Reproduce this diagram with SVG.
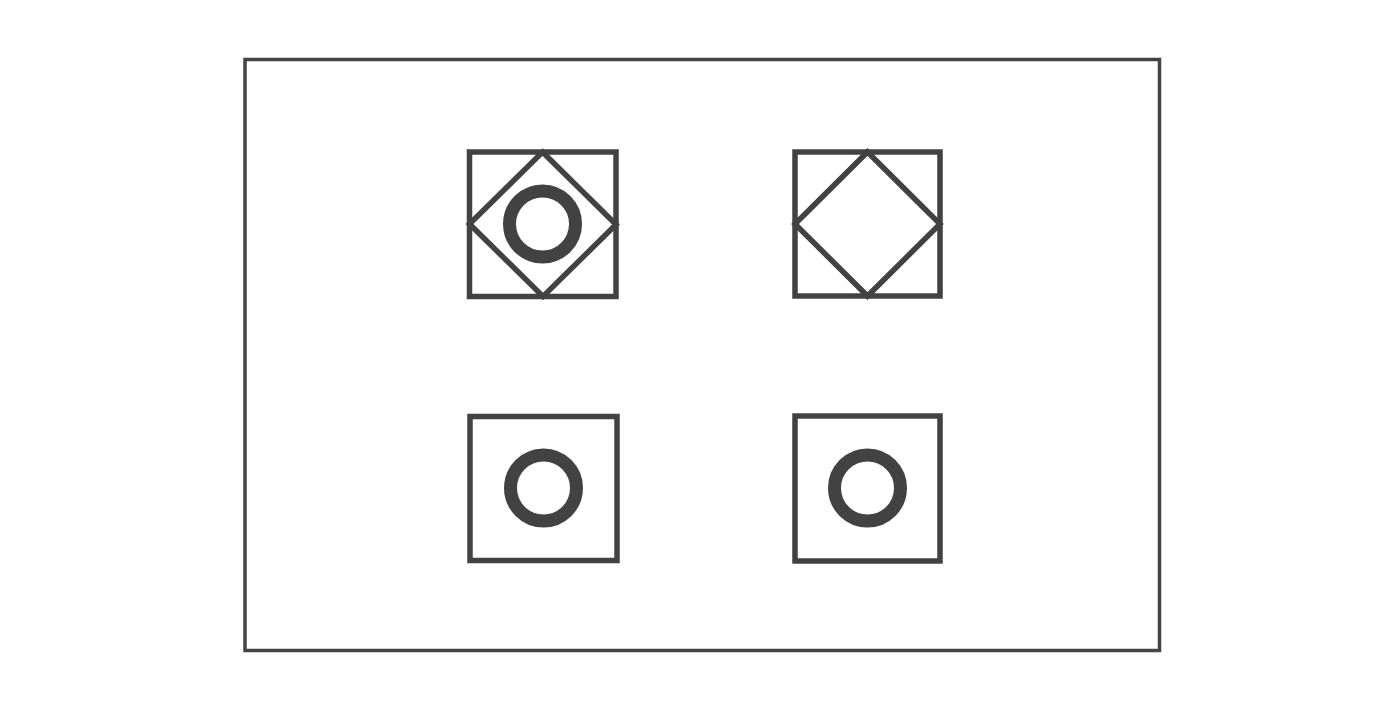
<svg xmlns="http://www.w3.org/2000/svg" width="1400" height="709" viewBox="0 0 1400 709">
<style>
.ln{fill:none;stroke:#424242;stroke-width:5.5;stroke-linejoin:miter}
.ring{fill:none;stroke:#424242;stroke-width:13}
.frame{fill:none;stroke:#444;stroke-width:3.5}
</style>
<rect width="1400" height="709" fill="#fff"/>
<rect id="frame" class="frame" x="245" y="59.5" width="914.5" height="591"/>
<g id="tile1">
<rect class="ln" x="469.5" y="152" width="146.5" height="144.5"/>
<polygon class="ln" points="542.5,152 616,224.5 543,296.5 469.5,224"/>
<circle class="ring" cx="542.5" cy="224" r="33"/>
</g>
<g id="tile2">
<rect class="ln" x="795" y="152" width="145" height="144"/>
<polygon class="ln" points="867.5,152 940,224 867.5,296 795,224"/>
</g>
<g id="tile3">
<rect class="ln" x="470" y="416.5" width="147" height="144"/>
<circle class="ring" cx="543.5" cy="488" r="33"/>
</g>
<g id="tile4">
<rect class="ln" x="795" y="416" width="145" height="145"/>
<circle class="ring" cx="867.5" cy="488" r="33"/>
</g>
</svg>
